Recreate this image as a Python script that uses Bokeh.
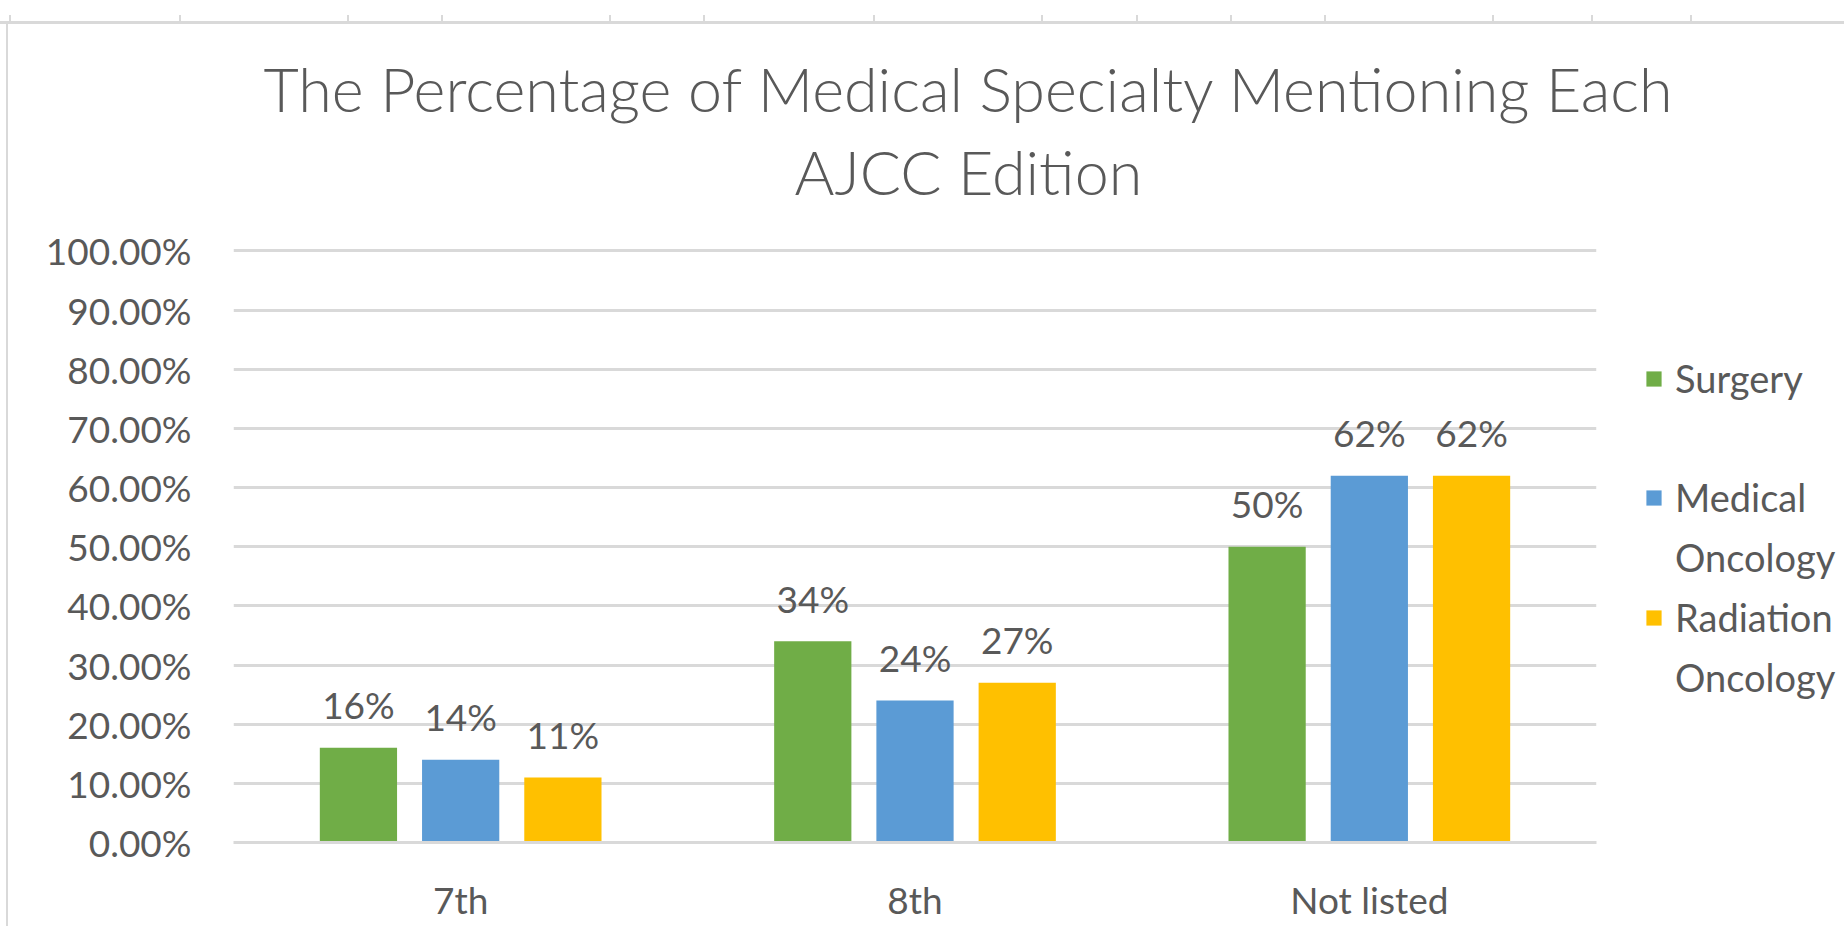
from bokeh.plotting import figure
from bokeh.models import (ColumnDataSource, FactorRange, Range1d, FixedTicker,
                          NumeralTickFormatter, Legend, LegendItem, Title)
from bokeh.core.properties import value
from bokeh.transform import dodge
from bokeh.embed import file_html
from bokeh.resources import INLINE

# ---- data ----
categories = ["7th", "8th", "Not listed"]
series_names = ["Surgery", "Medical Oncology", "Radiation Oncology"]
surgery = [0.16, 0.34, 0.50]
medical_oncology = [0.14, 0.24, 0.62]
radiation_oncology = [0.11, 0.27, 0.62]
y_ticks = [0.0, 0.1, 0.2, 0.3, 0.4, 0.5, 0.6, 0.7, 0.8, 0.9, 1.0]
title_lines = ["The Percentage of Medical Specialty Mentioning Each", "AJCC Edition"]

colors = ["#70AD47", "#5B9BD5", "#FFC000"]
offsets = [-0.225, 0.0, 0.225]
FONT = "Lato"
TITLE_FONT = "'Lato Light', Lato"
TXT = "#595959"
GRID = "#D9D9D9"

src = ColumnDataSource(dict(
    cat=categories,
    s0=surgery, s1=medical_oncology, s2=radiation_oncology,
    l0=[f"{round(v*100)}%" for v in surgery],
    l1=[f"{round(v*100)}%" for v in medical_oncology],
    l2=[f"{round(v*100)}%" for v in radiation_oncology],
))

p = figure(width=None, height=None, frame_width=1363, frame_height=594,
           x_range=FactorRange(*categories), y_range=Range1d(0, 1.004),
           output_backend="svg", toolbar_location=None,
           min_border_left=233, min_border_right=248, min_border_top=248, min_border_bottom=84)
p.outline_line_color = None
p.background_fill_color = "white"
p.border_fill_color = None

renderers = []
for i, key in enumerate(["s0", "s1", "s2"]):
    r = p.vbar(x=dodge("cat", offsets[i], range=p.x_range), top=key, width=0.17,
               source=src, fill_color=colors[i], line_color=None)
    renderers.append(r)
    p.text(x=dodge("cat", offsets[i], range=p.x_range), y=key, text="l%d" % i, source=src,
           text_align="center", text_baseline="middle", y_offset=-43,
           text_font=value(FONT), text_font_size="37px", text_color=TXT)

# invisible renderer used for legend rows that carry no swatch
blank = p.vbar(x=[], top=[], width=0.1, fill_alpha=0, line_alpha=0)

# axes
p.yaxis.ticker = FixedTicker(ticks=y_ticks)
p.yaxis.formatter = NumeralTickFormatter(format="0.00%")
p.yaxis.axis_line_color = None
p.yaxis.major_tick_line_color = None
p.yaxis.minor_tick_line_color = None
p.yaxis.major_label_standoff = 36
p.yaxis.major_label_text_font = FONT
p.yaxis.major_label_text_font_size = "37px"
p.yaxis.major_label_text_color = TXT

p.xaxis.axis_line_color = GRID
p.xaxis.axis_line_width = 3
p.xaxis.major_tick_line_color = None
p.xaxis.minor_tick_line_color = None
p.xaxis.major_label_standoff = 28
p.xaxis.major_label_text_font = FONT
p.xaxis.major_label_text_font_size = "37px"
p.xaxis.major_label_text_color = TXT

p.xgrid.grid_line_color = None
p.ygrid.grid_line_color = GRID
p.ygrid.grid_line_width = 3

# title lines
p.add_layout(Title(text=title_lines[1], align="left", offset=561, text_font=TITLE_FONT,
                   text_font_size="61px", text_color=TXT, text_font_style="normal",
                   standoff=81), "above")
p.add_layout(Title(text=title_lines[0], align="left", offset=30, text_font=TITLE_FONT,
                   text_font_size="61px", text_color=TXT, text_font_style="normal",
                   standoff=-64), "above")

# legend: series names wrapped on two rows like the original
med1, med2 = series_names[1].split(" ")
rad1, rad2 = series_names[2].split(" ")
legend = Legend(items=[
    LegendItem(label=series_names[0], renderers=[renderers[0]]),
    LegendItem(label=" ", renderers=[blank]),
    LegendItem(label=med1, renderers=[renderers[1]]),
    LegendItem(label=med2, renderers=[blank]),
    LegendItem(label=rad1, renderers=[renderers[2]]),
    LegendItem(label=rad2, renderers=[blank]),
], location=(48, 142), orientation="vertical",
    label_text_font=FONT, label_text_font_size="38px", label_text_color=TXT,
    label_height=45,
    glyph_width=19, glyph_height=19, label_standoff=12, spacing=14,
    border_line_color=None, background_fill_alpha=0, padding=0, margin=0)
p.add_layout(legend, "right")

# sheet frame lines behind the transparent canvas border (decoration)
tick_x = [9, 179, 347, 441, 609, 703, 873, 1041, 1136, 1230, 1324, 1492, 1591, 1690]
imgs = ["linear-gradient(#D9D9D9,#D9D9D9)"] * (2 + len(tick_x))
pos = ["0px 21px", "6px 21px"] + [f"{x}px 15px" for x in tick_x]
size = ["1844px 3px", "2px 905px"] + ["2px 7px"] * len(tick_x)
p.styles = {
    "background-color": "white",
    "background-image": ", ".join(imgs),
    "background-position": ", ".join(pos),
    "background-size": ", ".join(size),
    "background-repeat": "no-repeat",
}

open("out.html", "w").write(file_html(p, INLINE))
